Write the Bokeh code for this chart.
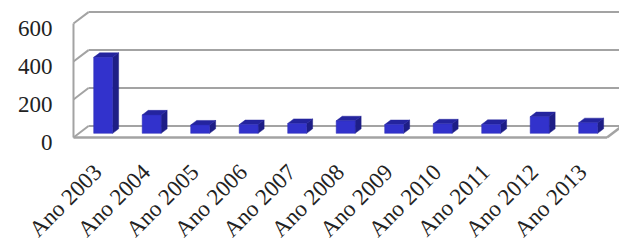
from bokeh.plotting import figure
from bokeh.models import Range1d
from bokeh.core.properties import value
from bokeh.embed import file_html
from bokeh.resources import INLINE
import math

categories = ["Ano 2003", "Ano 2004", "Ano 2005", "Ano 2006", "Ano 2007", "Ano 2008",
              "Ano 2009", "Ano 2010", "Ano 2011", "Ano 2012", "Ano 2013"]
values = [400, 97, 44, 46, 52, 66, 46, 50, 47, 88, 56]
y_ticks = [0, 200, 400, 600]
y_tick_labels = ["0", "200", "400", "600"]

# 3D geometry (in data units)
DX = 0.31      # depth offset along x (category units)
DY = 60.0      # depth offset along y (value units)
F0, F1 = 0.36, 0.76   # bar front/back depth fractions
BW = 0.39      # bar width
X0, X1 = -0.5, len(categories) - 0.5
LABEL_Y = -163  # value level of the category label anchors (below the floor)
YLAB_SHIFT = -24  # value-axis labels sit slightly below their front tick

FRONT = "#3232CC"
TOP = "#24249E"
SIDE = "#1E1E86"
GRID = "#A3A3A3"
FONT = "Liberation Serif"

p = figure(width=619, height=246, output_backend="svg", toolbar_location=None,
           x_range=Range1d(-2.005, 10.758), y_range=Range1d(-574, 721),
           min_border_left=0, min_border_right=0, min_border_top=0, min_border_bottom=0,
           outline_line_color=None, background_fill_color="white", border_fill_color="white")
p.xaxis.visible = False
p.yaxis.visible = False
p.xgrid.visible = False
p.ygrid.visible = False

# walls and floor
top_lev = max(y_ticks)
bx0 = X0 + DX
for lev in y_ticks:
    p.line([bx0, X1 + DX + 0.2], [lev + DY, lev + DY], line_color=GRID, line_width=2)
    p.line([X0, bx0], [lev, lev + DY], line_color=GRID, line_width=2)
p.line([X0, X0], [0, top_lev], line_color=GRID, line_width=2)
p.line([X0, X1], [0, 0], line_color=GRID, line_width=2.5)
p.line([X1, X1 + DX], [0, DY], line_color=GRID, line_width=2.5)

# bars
dd = F1 - F0
lefts, rights, bots, tops = [], [], [], []
top_xs, top_ys, side_xs, side_ys = [], [], [], []
for i, v in enumerate(values):
    cx = i + F0 * DX
    l, r = cx - BW / 2, cx + BW / 2
    b, t = F0 * DY, F0 * DY + v
    lefts.append(l); rights.append(r); bots.append(b); tops.append(t)
    side_xs.append([r, r + dd * DX, r + dd * DX, r])
    side_ys.append([b, b + dd * DY, t + dd * DY, t])
    top_xs.append([l, r, r + dd * DX, l + dd * DX])
    top_ys.append([t, t, t + dd * DY, t + dd * DY])

p.patches(side_xs, side_ys, fill_color=SIDE, line_color=SIDE, line_width=0.5)
p.patches(top_xs, top_ys, fill_color=TOP, line_color=TOP, line_width=0.5)
p.quad(left=lefts, right=rights, bottom=bots, top=tops, fill_color=FRONT,
       line_color="#2A2AB4", line_width=0.5)

# value-axis tick labels
p.text(x=[X0] * len(y_ticks), y=[t + YLAB_SHIFT for t in y_ticks], text=y_tick_labels,
       x_offset=-21, text_align="right", text_baseline="middle",
       text_font=value(FONT), text_font_size="23px", text_color="#222222")

# category labels, rotated 45 degrees, ending under each category
p.text(x=list(range(len(categories))), y=[LABEL_Y] * len(categories), text=categories,
       angle=math.pi / 4, text_align="right", text_baseline="middle",
       text_font=value(FONT), text_font_size="23px", text_color="#222222")

open("out.html", "w").write(file_html(p, INLINE))
